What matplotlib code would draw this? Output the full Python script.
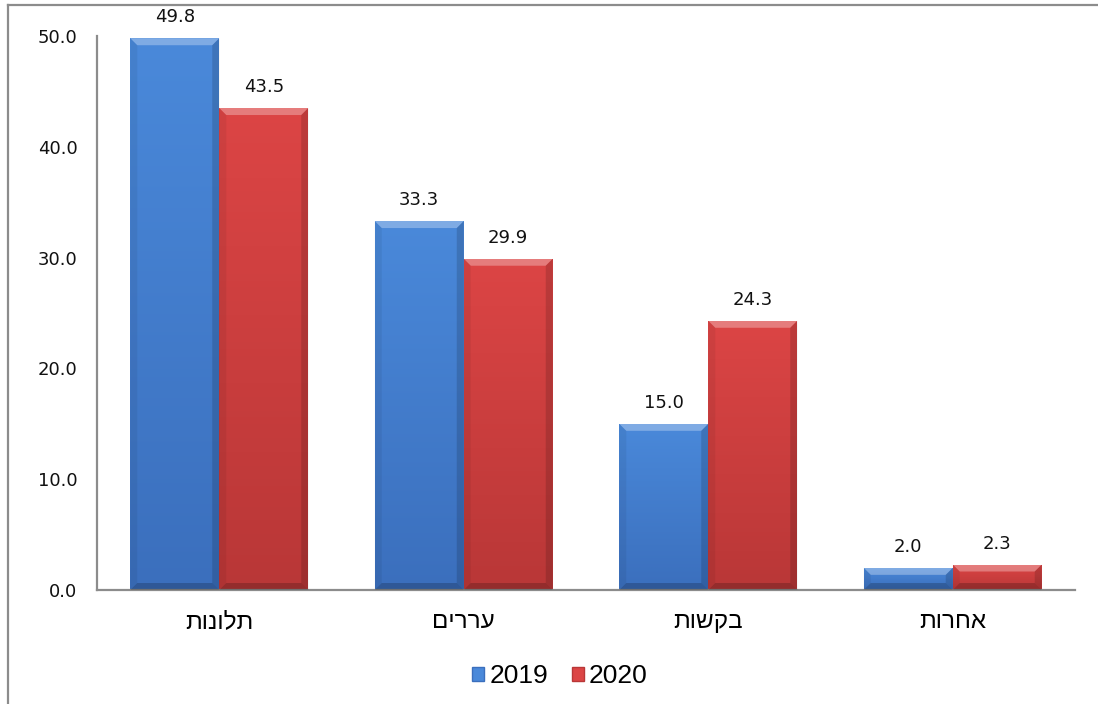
import numpy as np
import matplotlib.pyplot as plt
from matplotlib.patches import Polygon, Patch
from matplotlib.colors import LinearSegmentedColormap
from matplotlib.lines import Line2D

categories = ['תלונות', 'עררים', 'בקשות', 'אחרות']
years = ['2019', '2020']
v2019 = [49.8, 33.3, 15.0, 2.0]
v2020 = [43.5, 29.9, 24.3, 2.3]

heb = ['Liberation Sans', 'DejaVu Sans']
fig = plt.figure(figsize=(10.98, 7.04), dpi=100)
ax = fig.add_axes([97 / 1098, 114 / 704, 978 / 1098, 554 / 704])

x = np.arange(len(categories))
w = 0.364
ax.set_xlim(-0.5, 3.5)
ax.set_ylim(0, 50)

grads = {
    '2019': ('#4a89da', '#3b6fbd'),
    '2020': ('#dc4545', '#b93737'),
}

# bevel size in data units (about 7 px)
bx = 7 / 978 * 4
by = 7 / 554 * 50


def bevel_bar(patch, top, bottom):
    x0, y0 = patch.get_x(), patch.get_y()
    bw, bh = patch.get_width(), patch.get_height()
    x1, y1 = x0 + bw, y0 + bh
    cmap = LinearSegmentedColormap.from_list('g', [bottom, top])
    grad = np.linspace(0, 1, 256).reshape(-1, 1)
    im = ax.imshow(grad, cmap=cmap, origin='lower', aspect='auto',
                   extent=(x0, x1, y0, y1), zorder=2)
    im.set_clip_path(patch)
    b_y = min(by, bh / 3)
    ix0, ix1, iy0, iy1 = x0 + bx, x1 - bx, y0 + b_y, y1 - b_y
    sides = [
        ([(x0, y1), (x1, y1), (ix1, iy1), (ix0, iy1)], 'white', 0.30),
        ([(x0, y0), (x0, y1), (ix0, iy1), (ix0, iy0)], 'black', 0.06),
        ([(x1, y0), (x1, y1), (ix1, iy1), (ix1, iy0)], 'black', 0.14),
        ([(x0, y0), (x1, y0), (ix1, iy0), (ix0, iy0)], 'black', 0.20),
    ]
    for pts, c, a in sides:
        ax.add_patch(Polygon(pts, closed=True, facecolor=c, alpha=a,
                             edgecolor='none', zorder=3))


for vals, off, yr in [(v2019, -w / 2, '2019'), (v2020, w / 2, '2020')]:
    bars = ax.bar(x + off, vals, w, color=grads[yr][1], edgecolor='none', zorder=2)
    for p, v in zip(bars, vals):
        bevel_bar(p, *grads[yr])
        ax.annotate(f'{v:.1f}', (p.get_x() + p.get_width() / 2, v),
                    xytext=(0, 8.5), textcoords='offset points',
                    ha='center', va='bottom', fontsize=13, color='#111111')

ax.set_xlim(-0.5, 3.5)
ax.set_ylim(0, 50)

for s in ['top', 'right']:
    ax.spines[s].set_visible(False)
for s in ['left', 'bottom']:
    ax.spines[s].set_color('#8c8c8c')
    ax.spines[s].set_linewidth(1.6)

ax.set_yticks(np.arange(0, 51, 10))
ax.set_yticklabels([f'{t:.1f}' for t in np.arange(0, 51, 10)], fontsize=13, color='#111111')
ax.tick_params(axis='y', length=0, pad=14)
ax.set_xticks(x)
ax.set_xticklabels([c[::-1] for c in categories], fontsize=17.5, family=heb)
ax.tick_params(axis='x', length=0, pad=15)

handles = [Patch(facecolor=grads[y][0], edgecolor=grads[y][1], linewidth=1) for y in years]
fig.legend(handles, years, loc='center', bbox_to_anchor=(0.51, 1 - 676 / 704),
           ncol=2, frameon=False, handlelength=0.45, handleheight=0.45,
           handletextpad=0.2, columnspacing=0.9, prop={'family': heb, 'size': 19})

# outer frame (top and left edges)
fig.add_artist(Line2D([8 / 1098, 1], [1 - 5 / 704, 1 - 5 / 704], color='#8c8c8c', lw=1.6))
fig.add_artist(Line2D([8 / 1098, 8 / 1098], [0, 1 - 5 / 704], color='#8c8c8c', lw=1.6))

fig.savefig('out.png', dpi=100)
